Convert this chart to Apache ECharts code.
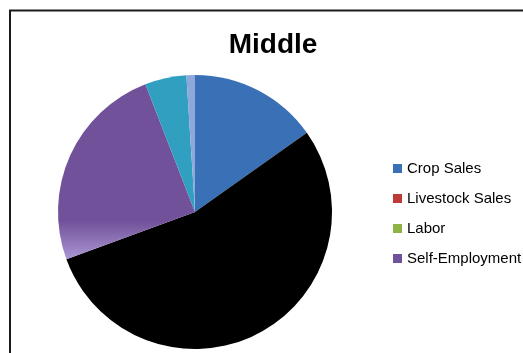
<!DOCTYPE html>
<html>
<head>
<meta charset="utf-8">
<script src="https://cdn.jsdelivr.net/npm/echarts@6/dist/echarts.min.js"></script>
<style>
html,body{margin:0;padding:0;background:#fff;}
#c{width:523px;height:353px;}
</style>
</head>
<body>
<div id="c"></div>
<script>
const titleText = 'Middle';
const categories = ['Crop Sales', 'Livestock Sales', 'Labor', 'Self-Employment', 'Transfers', 'Other'];
const values = [15.2, 0, 54.2, 24.7, 4.9, 1.0];
const sliceColors = ['#3a70b6', '#be3a36', '#000000', '#71519a', '#31a0c0', '#8fa8dc'];
const legendNames = ['Crop Sales', 'Livestock Sales', 'Labor', 'Self-Employment'];
const legendColors = ['#3a70b6', '#be3a36', '#8fb244', '#71519a'];

const chart = echarts.init(document.getElementById('c'), null, {renderer: 'canvas'});

const data = categories.map((n, i) => {
  let color = sliceColors[i];
  if (n === 'Self-Employment') {
    color = new echarts.graphic.LinearGradient(0, 0, 0, 1, [
      {offset: 0, color: '#71519a'},
      {offset: 0.78, color: '#71519a'},
      {offset: 1, color: '#ab96d4'}
    ]);
  }
  return {name: n, value: values[i], itemStyle: {color: color}};
});

chart.setOption({
  animation: false,
  title: {
    text: titleText,
    left: 268,
    top: 26,
    textAlign: 'center',
    textStyle: {fontFamily: 'Liberation Sans', fontWeight: 'bold', fontSize: 28, color: '#000'}
  },
  legend: {
    orient: 'vertical',
    left: 388,
    top: 156,
    itemWidth: 9,
    itemHeight: 9,
    itemGap: 15,
    icon: 'rect',
    data: legendNames.map((n, i) => ({name: n, itemStyle: {color: legendColors[i]}})),
    textStyle: {fontFamily: 'Liberation Sans', fontSize: 15, lineHeight: 15, color: '#000'}
  },
  graphic: [{
    type: 'rect',
    shape: {x: 10, y: 10.5, width: 600, height: 400},
    style: {fill: 'none', stroke: '#1a1a1a', lineWidth: 2},
    silent: true,
    z: 100
  }],
  series: [{
    type: 'pie',
    center: [195, 212],
    radius: 137,
    startAngle: 90,
    clockwise: true,
    label: {show: false},
    labelLine: {show: false},
    emphasis: {disabled: true},
    itemStyle: {borderWidth: 0},
    data: data
  }]
});
</script>
</body>
</html>
